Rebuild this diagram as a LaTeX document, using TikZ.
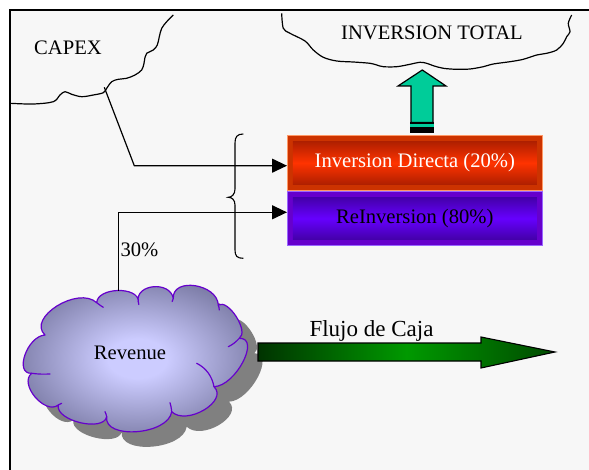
\documentclass[tikz,border=0pt]{standalone}
\usepackage{fontspec}
\setmainfont{Liberation Serif}
\usetikzlibrary{arrows.meta,calc}
\definecolor{bgcol}{HTML}{F7F7F7}
\definecolor{redout}{HTML}{CC3300}
\definecolor{redin}{HTML}{FF3300}
\definecolor{reddark}{HTML}{991A00}
\definecolor{redline}{HTML}{FF9966}
\definecolor{purout}{HTML}{6600CC}
\definecolor{purin}{HTML}{6600FF}
\definecolor{purdark}{HTML}{3A0090}
\definecolor{purline}{HTML}{9966FF}
\definecolor{upgreen}{HTML}{00CC99}
\definecolor{revlight}{HTML}{CCCCFF}
\definecolor{revmid}{HTML}{7A7AA4}
\definecolor{revdark}{HTML}{5A5A78}
\definecolor{shadowgray}{HTML}{808080}
\definecolor{flowdark}{HTML}{003300}
\definecolor{flowmid}{HTML}{009900}
\definecolor{flowright}{HTML}{004A00}
\pgfdeclareradialshading{revshade}{\pgfpoint{0bp}{0bp}}{color(0bp)=(revlight); color(6bp)=(revlight); color(26bp)=(revmid); color(40bp)=(revdark); color(80bp)=(revdark)}
\newcommand{\revoutline}{(96.7,302.7) .. controls (97.4,287.1) and (139,286.1) .. (138.3,301.7)
  .. controls (135,284) and (170,280.6) .. (173.3,298.3)
  .. controls (172.2,277) and (217.2,283.7) .. (218.3,305)
  .. controls (228.4,298.6) and (249.4,331.9) .. (239.3,338.3)
  .. controls (261,337.6) and (235.7,386) .. (214,386.7)
  .. controls (228.8,401.1) and (186.5,426.1) .. (171.7,411.7)
  .. controls (168.4,435) and (103.4,440) .. (106.7,416.7)
  .. controls (103.4,432.4) and (55,420.7) .. (58.3,405)
  .. controls (45,415.4) and (18.4,383.7) .. (31.7,373.3)
  .. controls (13.8,374.4) and (27.1,336.1) .. (45,335)
  .. controls (26.5,317.8) and (78.2,285.5) .. (96.7,302.7) -- cycle}
\tikzset{
  conn/.style={line width=1.2pt, -{Triangle[length=15pt,width=14pt]}},
  outline/.style={line width=1.2pt},
  gradbox/.style n args={4}{rectangle, minimum width=255pt, minimum height=54.5pt, inner sep=0pt,
    fill=#1, draw=#4, line width=0.6pt,
    path picture={\shade[top color=#3, bottom color=#3, middle color=#2] ([shift={(5.5pt,-6pt)}]path picture bounding box.north west) rectangle ([shift={(-5.5pt,6pt)}]path picture bounding box.south east);}},
  lbl/.style={inner sep=0pt, anchor=base},
  puffline/.style={draw=purout, line width=1.2pt, line cap=round},
}
\begin{document}
\begin{tikzpicture}[x=1pt,y=-1pt,font=\fontsize{20.6}{24}\selectfont]
\useasboundingbox (0,0) rectangle (589,470);
\fill[bgcol] (10,10) rectangle (589,470);
\draw[line width=1.5pt] (10,470) -- (10,10) -- (589,10);

% CAPEX cloud boundary
\draw[outline] plot[smooth, tension=0.55] coordinates {(10,103.3) (33.3,104) (53.3,101.7) (60,95) (65,91.7) (71.7,94.3) (81.7,96.7) (93.3,95) (103.3,92.7) (106.7,88.3) (111.7,81.7) (118.3,79.3) (126.7,78.3) (135,75) (141.7,70) (144,63.3) (145,57.3) (146.7,53.3) (153.3,50) (157.3,45) (159.3,36.7) (161.7,28.3) (166.7,21.7) (173.3,15)};
\node[lbl] (capex) at (68,54.3) {CAPEX};

% INVERSION TOTAL cloud boundary
\draw[outline] plot[smooth, tension=0.55] coordinates {(281.7,13.3) (283.3,28.3) (290,33.3) (305,41) (313.3,50) (323.3,57.3) (336.7,61) (353.3,62) (370,63.3) (376.7,65) (383.3,66.7) (396.7,66.7) (410,64.3) (420,62.3) (426.7,63.3) (433.3,65.7) (443.3,68.3) (456.7,69.3) (470,69) (483.3,66.7) (493.3,64) (510,61.7) (523.3,59.3) (536.7,55) (546.7,53.3) (556.7,50) (563.3,43.3) (566.7,36.7) (570,31.7) (568.3,23.3) (571.7,15)};
\node[lbl] (invtotal) at (432,40) {INVERSION TOTAL};

% up arrow
\draw[line width=1.2pt, fill=upgreen, line join=miter] (411,122.5) -- (411,86) -- (398,86) -- (422.3,70) -- (446,86) -- (433,86) -- (433,122.5) -- cycle;
\fill[black] (410.4,122.3) rectangle (433.6,124.3);
\fill[upgreen] (410.4,124.3) rectangle (433.6,126.7);
\fill[black] (410.4,126.7) rectangle (433.6,132.7);

% boxes
\node[gradbox={redout}{redin}{reddark}{redline}, text=white] (directa) at (414.8,162.9) {\raisebox{-2.5pt}{Inversion Directa (20\%)}};
\node[gradbox={purout}{purin}{purdark}{purline}, text=black] (reinv) at (414.8,218.4) {\raisebox{-2.5pt}{ReInversion (80\%)}};

% brace
\draw[line width=1.1pt] (243.3,134) .. controls (237,134) and (235,137) .. (235,143) -- (235,189) .. controls (235,194) and (232,197.3) .. (228.3,197.3) .. controls (232,197.3) and (235,200) .. (235,205) -- (235,250) .. controls (235,256) and (237,258.3) .. (243.3,258.3);

% revenue cloud
\begin{scope}[shift={(15,15)}]
\fill[shadowgray] \revoutline;
\end{scope}
\shade[shading=revshade] \revoutline;
\draw[puffline, line join=round] \revoutline;
\draw[puffline] (96.7,302.7) .. controls (99,304.5) and (101,306) .. (103.3,307.3);
\draw[puffline] (138.3,301.7) -- (138.8,304.5);
\draw[puffline] (173.3,298.3) -- (172.2,301.5);
\draw[puffline] (218.3,305) .. controls (218.8,306.5) and (219.2,308) .. (219.3,310);
\draw[puffline] (239.3,338.3) .. controls (236,342) and (232,345) .. (228.3,346.7);
\draw[puffline] (196.7,363.3) .. controls (206,368) and (212,376) .. (214,386.7);
\draw[puffline] (171.7,411.7) .. controls (171.3,408) and (170.8,405) .. (170,402.7);
\draw[puffline] (106.7,416.7) .. controls (106.2,414.5) and (105.7,413) .. (105,411.7);
\draw[puffline] (58.3,405) -- (61.7,403.3);
\draw[puffline] (31.7,373.3) .. controls (38,374.2) and (44,374.3) .. (50,374);
\node[lbl] (revenue) at (130,359.3) {Revenue};

% connectors
\coordinate (capexpt) at (104.3,87.3);
\draw[conn] (capexpt) -- (134.3,165.7) -- (directa.west |- 0,165.7);
\coordinate (revtop) at (118.3,290.7);
\draw[conn] (revtop) -- (118.3,212.3) -- (reinv.west |- 0,212.3);
\node[lbl] (pct) at (139.5,256.7) {30\%};

% flujo arrow
\draw[line width=1.1pt, left color=flowdark, right color=flowright, middle color=flowmid] (258,343) -- (481,343) -- (481,337) -- (555,352) -- (481,368) -- (481,361) -- (258,361) -- cycle;
\node[lbl, font=\fontsize{23}{27}\selectfont] (flujo) at (371.5,336) {Flujo de Caja};
\end{tikzpicture}
\end{document}
